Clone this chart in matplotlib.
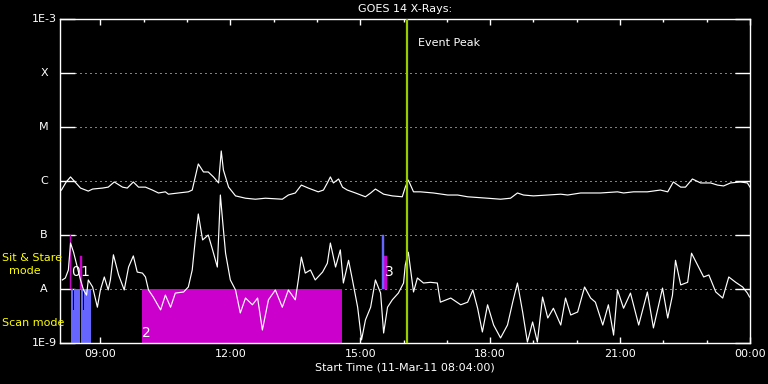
import matplotlib.pyplot as plt
from matplotlib.ticker import FixedLocator, MultipleLocator, NullLocator

plot_fname = "out.png"

# time axis in decimal hours of 11-Mar-11 (24 = 00:00 next day)
t_start = 8 + 4 / 60.
t_end = 24.0
peak_time = 16.08

# GOES 14 long channel (upper curve), W/m^2
long_t = [8.10, 8.21, 8.31, 8.54, 8.72, 8.82, 9.05, 9.18, 9.32, 9.51,
          9.62, 9.76, 9.88, 10.04, 10.20, 10.34, 10.50, 10.57, 10.80, 11.03,
          11.12, 11.19, 11.26, 11.38, 11.49, 11.61, 11.73, 11.79, 11.84, 11.96,
          12.12, 12.35, 12.58, 12.81, 13.20, 13.34, 13.50, 13.64, 13.80, 14.03,
          14.15, 14.24, 14.31, 14.38, 14.50, 14.59, 14.70, 14.89, 15.12, 15.24,
          15.35, 15.54, 15.74, 15.97, 16.04, 16.11, 16.23, 16.39, 16.69, 17.02,
          17.25, 17.48, 17.94, 18.24, 18.47, 18.63, 18.77, 19.00, 19.33, 19.63,
          19.79, 20.09, 20.55, 20.94, 21.08, 21.31, 21.63, 21.93, 22.10, 22.23,
          22.40, 22.51, 22.67, 22.86, 23.09, 23.25, 23.39, 23.55, 23.78, 23.94,
          24.00]
long_flux = [6.8e-7, 9.6e-7, 1.19e-6, 7.4e-7, 6.5e-7, 7.1e-7, 7.4e-7, 7.7e-7, 9.6e-7, 7.7e-7,
             7.4e-7, 9.6e-7, 7.7e-7, 7.7e-7, 6.8e-7, 6.0e-7, 6.3e-7, 5.7e-7, 6.0e-7, 6.3e-7,
             6.8e-7, 1.19e-6, 2.07e-6, 1.47e-6, 1.47e-6, 1.19e-6, 9.2e-7, 3.6e-6, 1.6e-6, 7.7e-7,
             5.3e-7, 4.8e-7, 4.6e-7, 4.8e-7, 4.6e-7, 5.5e-7, 6.0e-7, 8.4e-7, 7.4e-7, 6.3e-7,
             6.8e-7, 9.2e-7, 1.19e-6, 9.2e-7, 1.09e-6, 7.7e-7, 6.8e-7, 6.0e-7, 5.1e-7, 6.0e-7,
             7.1e-7, 5.7e-7, 5.3e-7, 5.1e-7, 7.7e-7, 1.04e-6, 6.3e-7, 6.3e-7, 6.0e-7, 5.5e-7,
             5.5e-7, 5.1e-7, 4.8e-7, 4.6e-7, 4.8e-7, 6.0e-7, 5.5e-7, 5.3e-7, 5.5e-7, 5.7e-7,
             5.5e-7, 6.0e-7, 6.0e-7, 6.3e-7, 6.0e-7, 6.3e-7, 6.3e-7, 6.8e-7, 6.3e-7, 9.6e-7,
             7.7e-7, 7.7e-7, 1.09e-6, 9.2e-7, 9.2e-7, 8.4e-7, 8.1e-7, 9.2e-7, 9.6e-7, 9.2e-7,
             7.7e-7]

# GOES 14 short channel (lower curve), W/m^2
short_t = [8.12, 8.19, 8.26, 8.31, 8.38, 8.47, 8.54, 8.61, 8.68, 8.72,
           8.82, 8.93, 9.00, 9.09, 9.18, 9.23, 9.30, 9.42, 9.55, 9.65,
           9.76, 9.85, 9.97, 10.04, 10.11, 10.22, 10.39, 10.50, 10.62, 10.73,
           10.92, 11.03, 11.12, 11.19, 11.26, 11.36, 11.49, 11.59, 11.70, 11.77,
           11.82, 11.89, 12.00, 12.12, 12.23, 12.35, 12.51, 12.63, 12.74, 12.88,
           13.04, 13.20, 13.34, 13.50, 13.57, 13.64, 13.73, 13.85, 13.96, 14.13,
           14.24, 14.31, 14.43, 14.54, 14.61, 14.73, 14.82, 14.94, 15.03, 15.12,
           15.24, 15.35, 15.47, 15.54, 15.63, 15.74, 15.88, 16.00, 16.04, 16.11,
           16.23, 16.32, 16.46, 16.62, 16.78, 16.85, 17.09, 17.32, 17.48, 17.60,
           17.71, 17.82, 17.94, 18.08, 18.24, 18.40, 18.52, 18.63, 18.75, 18.86,
           18.98, 19.09, 19.21, 19.33, 19.46, 19.63, 19.74, 19.86, 20.02, 20.18,
           20.32, 20.43, 20.60, 20.73, 20.85, 20.94, 21.08, 21.24, 21.43, 21.63,
           21.77, 21.98, 22.10, 22.21, 22.28, 22.40, 22.56, 22.65, 22.79, 22.93,
           23.05, 23.21, 23.37, 23.51, 23.67, 23.83, 23.94, 23.99]
short_flux = [1.47e-8, 1.6e-8, 2.25e-8, 7.1e-8, 4.8e-8, 2.45e-8, 1.47e-8, 9.6e-9, 7.7e-9, 1.47e-8,
              1.09e-8, 4.6e-9, 9.6e-9, 1.67e-8, 9.6e-9, 1.47e-8, 4.3e-8, 1.82e-8, 9.6e-9, 2.55e-8,
              4.1e-8, 2.06e-8, 1.97e-8, 1.67e-8, 9.6e-9, 7.1e-9, 4.1e-9, 7.7e-9, 4.6e-9, 8.4e-9,
              8.8e-9, 1.09e-8, 2.25e-8, 8.1e-8, 2.45e-7, 8.1e-8, 1.0e-7, 5.3e-8, 2.55e-8, 5.5e-7,
              1.9e-7, 4.6e-8, 1.47e-8, 9.6e-9, 3.6e-9, 6.8e-9, 5.1e-9, 6.8e-9, 1.74e-9, 6.3e-9,
              9.6e-9, 4.6e-9, 9.6e-9, 6.3e-9, 1.47e-8, 3.9e-8, 1.97e-8, 2.25e-8, 1.47e-8, 2.06e-8,
              3.0e-8, 7.1e-8, 2.55e-8, 5.3e-8, 1.29e-8, 3.4e-8, 1.47e-8, 4.6e-9, 1.14e-9, 2.67e-9,
              4.6e-9, 1.47e-8, 8.4e-9, 1.53e-9, 4.6e-9, 6.3e-9, 8.4e-9, 1.29e-8, 2.78e-8, 4.8e-8,
              8.8e-9, 1.6e-8, 1.29e-8, 1.33e-8, 1.29e-8, 5.7e-9, 6.8e-9, 5.1e-9, 5.7e-9, 9.6e-9,
              4.4e-9, 1.6e-9, 5.1e-9, 2.15e-9, 1.24e-9, 2.15e-9, 5.7e-9, 1.29e-8, 3.75e-9, 1.04e-9,
              2.45e-9, 1.04e-9, 7.1e-9, 2.9e-9, 4.4e-9, 2.15e-9, 6.8e-9, 3.3e-9, 3.75e-9, 1.09e-8,
              6.8e-9, 5.7e-9, 2.15e-9, 5.1e-9, 1.4e-9, 9.6e-9, 4.4e-9, 8.4e-9, 2.15e-9, 8.8e-9,
              1.9e-9, 1.04e-8, 2.9e-9, 7.7e-9, 3.4e-8, 1.19e-8, 1.33e-8, 4.6e-8, 2.78e-8, 1.67e-8,
              1.82e-8, 8.8e-9, 6.8e-9, 1.67e-8, 1.33e-8, 1.09e-8, 8.4e-9, 7.1e-9]

# observing modes
scan_t0 = [8.33, 8.365, 8.38, 8.56, 8.60, 8.615]
scan_t1 = [8.365, 8.38, 8.54, 8.60, 8.615, 8.79]
scan_top = [1e-8, 4e-9, 1e-8, 1e-8, 4e-9, 1e-8]

stare_t0 = [8.295, 8.54, 15.555]
stare_t1 = [8.33, 8.585, 15.615]
stare_top = [1e-7, 4.1e-8, 4.1e-8]

stare_blue_t0 = [15.505]
stare_blue_t1 = [15.555]
stare_blue_top = [1e-7]

block_t0 = 9.95
block_t1 = 14.57

levels = [1e-9, 1e-8, 1e-7, 1e-6, 1e-5, 1e-4, 1e-3]
level_names = ["1E-9", "A", "B", "C", "M", "X", "1E-3"]
hour_ticks = [9, 12, 15, 18, 21, 24]
hour_names = ["09:00", "12:00", "15:00", "18:00", "21:00", "00:00"]

magenta = "#cc00cc"
blue = "#6666ff"
fs = 8

fig = plt.figure(figsize=(7.68, 3.84), dpi=100, facecolor="black")
ax = fig.add_axes([60 / 768., 41 / 384., 690 / 768., 324 / 384.])
ax.set_facecolor("black")
ax.set_yscale("log")
ax.set_xlim(t_start, t_end)
ax.set_ylim(levels[0], levels[-1])

# dotted class levels
for lev in levels[1:-1]:
    ax.axhline(lev, color="white", lw=0.72, linestyle=(0, (1, 4)), zorder=1)

# mode boxes
ax.fill_between([block_t0, block_t1], levels[0], levels[1], color=magenta, lw=0, zorder=2)
for i in range(len(scan_t0)):
    ax.fill_between([scan_t0[i], scan_t1[i]], levels[0], scan_top[i],
                    color=blue, lw=0, zorder=2)
for i in range(len(stare_t0)):
    ax.fill_between([stare_t0[i], stare_t1[i]], levels[1], stare_top[i],
                    facecolor=magenta, edgecolor=magenta, lw=0.3, zorder=2)
for i in range(len(stare_blue_t0)):
    ax.fill_between([stare_blue_t0[i], stare_blue_t1[i]], levels[1], stare_blue_top[i],
                    facecolor=blue, edgecolor=blue, lw=0.3, zorder=2)

ax.text(8.42, 2.06e-8, "0", color="white", fontsize=10, ha="center", va="center", zorder=4)
ax.text(8.65, 2.06e-8, "1", color="white", fontsize=10, ha="center", va="center", zorder=4)
ax.text(10.07, 1.55e-9, "2", color="white", fontsize=10, ha="center", va="center", zorder=4)
ax.text(15.66, 2.06e-8, "3", color="white", fontsize=10, ha="center", va="center", zorder=4)

# x-ray curves
ax.plot(long_t, long_flux, color="white", lw=0.85, zorder=3)
ax.plot(short_t, short_flux, color="white", lw=0.85, zorder=3)

# event peak
ax.axvline(peak_time, color="#99cc00", lw=1.6, zorder=5)
ax.text(peak_time + 0.25, 3.6e-4, "Event Peak", color="white", fontsize=fs,
        ha="left", va="center")

# axes styling
for sp in ax.spines.values():
    sp.set_color("white")
    sp.set_linewidth(1.0)

ax.yaxis.set_major_locator(FixedLocator(levels))
ax.yaxis.set_minor_locator(NullLocator())
ax.tick_params(axis="y", which="major", direction="in", length=10.8, width=1,
               color="white", left=True, right=True, labelleft=False)

ax.set_xticks(hour_ticks)
ax.set_xticklabels(hour_names)
ax.xaxis.set_minor_locator(MultipleLocator(1))
ax.tick_params(axis="x", which="major", direction="in", length=4.5, width=1,
               color="white", top=True, bottom=True, labelcolor="white",
               labelsize=fs, pad=4)
ax.tick_params(axis="x", which="minor", direction="in", length=2.3, width=1,
               color="white", top=True, bottom=True)

# y labels: class letters centred, decade labels right aligned
ytrans = ax.get_yaxis_transform()
for lev, name in zip(levels, level_names):
    if name.startswith("1E"):
        ax.text(-0.005, lev, name, transform=ytrans, color="white", fontsize=fs,
                ha="right", va="center")
    else:
        ax.text(-0.023, lev, name, transform=ytrans, color="white", fontsize=fs,
                ha="center", va="center")

ax.set_xlabel("Start Time (11-Mar-11 08:04:00)", color="white", fontsize=fs, labelpad=3)
ax.set_title("GOES 14 X-Rays:", color="white", fontsize=fs, pad=5)

fig.text(2 / 768., 1 - 258 / 384., "Sit & Stare", color="yellow", fontsize=fs,
         ha="left", va="center")
fig.text(25 / 768., 1 - 271 / 384., "mode", color="yellow", fontsize=fs,
         ha="center", va="center")
fig.text(2 / 768., 1 - 323 / 384., "Scan mode", color="yellow", fontsize=fs,
         ha="left", va="center")

plt.savefig(plot_fname, dpi=100, facecolor="black")

# EOF
